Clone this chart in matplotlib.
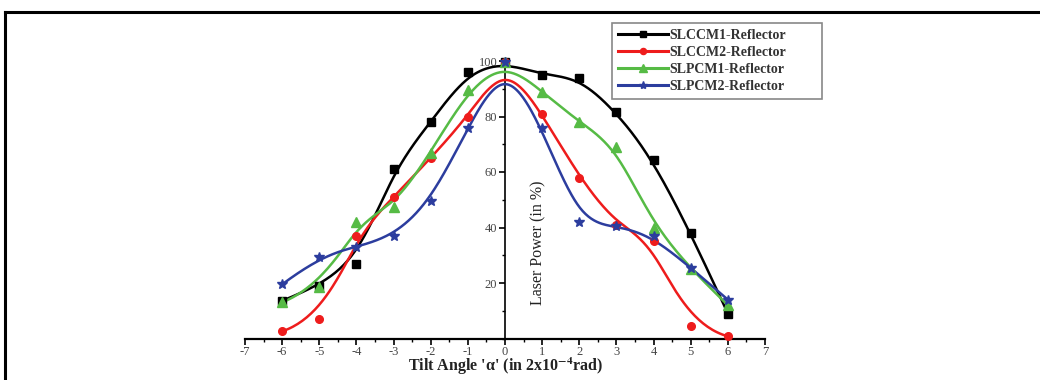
import numpy as np
import matplotlib
matplotlib.use("Agg")
import matplotlib.pyplot as plt
from matplotlib.lines import Line2D
from matplotlib.ticker import MultipleLocator

# Tilt angle positions (in 2x10^-4 rad)
tilt = [-6, -5, -4, -3, -2, -1, 0, 1, 2, 3, 4, 5, 6]

# Laser power (in %)
slccm1 = [13.6, 19, 27, 61, 78, 96, 99.5, 95, 94, 81.5, 64.5, 38, 9]
slccm2 = [2.6, 7, 37, 51, 65, 80, 99.5, 81, 58, 41, 35, 4.4, 0.8]
slpcm1 = [13, 18.5, 42, 47.5, 67, 89.5, 99.5, 89, 78, 69, 40, 25, 12]
slpcm2 = [19.5, 29.5, 33, 37, 49.5, 76, 99.5, 76, 42, 40.5, 37, 25.5, 14]

labels = ['SLCCM1-Reflector', 'SLCCM2-Reflector', 'SLPCM1-Reflector', 'SLPCM2-Reflector']
colors = ['#000000', '#ee1c1c', '#56bb45', '#2c3d9e']
markers = ['s', 'o', '^', '*']
msizes = [5.5, 5.5, 6.5, 7.5]


def bspline(xs, ys, k=3, num=400):
    # clamped uniform B-spline through the control points (Origin style smoothing)
    xs = np.asarray(xs, float)
    ys = np.asarray(ys, float)
    n = len(xs)
    knots = np.concatenate([np.zeros(k), np.arange(n - k + 1), np.full(k, n - k)])
    t = np.linspace(0, n - k, num)
    N = np.zeros((num, len(knots) - 1))
    for i in range(len(knots) - 1):
        N[:, i] = (knots[i] <= t) & (t < knots[i + 1])
    N[t == knots[-1], n - 1] = 1
    for p in range(1, k + 1):
        Nn = np.zeros((num, len(knots) - 1 - p))
        for i in range(len(knots) - 1 - p):
            d1 = knots[i + p] - knots[i]
            d2 = knots[i + p + 1] - knots[i + 1]
            a = (t - knots[i]) / d1 if d1 > 0 else 0
            b = (knots[i + p + 1] - t) / d2 if d2 > 0 else 0
            Nn[:, i] = a * N[:, i] + b * N[:, i + 1]
        N = Nn
    return N @ xs, N @ ys


serif = ['Liberation Serif', 'DejaVu Serif']
plt.rcParams['font.family'] = serif
plt.rcParams['mathtext.fontset'] = 'stix'
plt.rcParams['axes.unicode_minus'] = False

fig = plt.figure(figsize=(10.4, 3.8), dpi=100)
ax = fig.add_axes([245 / 1040, 41.5 / 380, 520 / 1040, 277.5 / 380])

series = [slccm1, slccm2, slpcm1, slpcm2]
for vals, lab, col, mk, ms in zip(series, labels, colors, markers, msizes):
    cx, cy = bspline(tilt, vals)
    ax.plot(cx, cy, color=col, lw=1.8, clip_on=False, zorder=3)
    ax.plot(tilt, vals, ls='none', marker=mk, ms=ms, color=col, clip_on=False, zorder=4)

ax.set_xlim(-7, 7)
ax.set_ylim(0, 100)

ax.spines['top'].set_visible(False)
ax.spines['right'].set_visible(False)
ax.spines['left'].set_position(('data', 0))
ax.spines['left'].set_linewidth(1.2)
ax.spines['bottom'].set_linewidth(1.6)

ax.xaxis.set_major_locator(MultipleLocator(1))
ax.xaxis.set_minor_locator(MultipleLocator(0.5))
ax.yaxis.set_minor_locator(MultipleLocator(10))
ax.set_yticks([20, 40, 60, 80, 100])
ax.tick_params(axis='both', which='major', direction='out', length=4, width=1.2,
               labelsize=9, labelcolor='#444444', pad=1.5)
ax.tick_params(axis='both', which='minor', direction='out', length=2.5, width=1)

ax.set_xlabel(r"Tilt Angle 'α' (in 2x10$^{\mathbf{-4}}$rad)", fontsize=11.5,
              fontweight='bold', labelpad=-1.5, color='#222222')
ax.text(0.9, 34.5, 'Laser Power (in %)', rotation=90, ha='center', va='center',
        fontsize=11.5, color='#222222')

handles = [Line2D([], [], color=c, lw=2.2, marker=m, ms=s * 0.8)
           for c, m, s in zip(colors, markers, msizes)]
leg = fig.legend(handles, labels, loc='upper left',
                 bbox_to_anchor=(612 / 1040, 1 - 98 / 380, 210 / 1040, 75 / 380),
                 mode='expand', borderaxespad=0, fancybox=False, framealpha=1,
                 edgecolor='#888888', handlelength=3.6,
                 handletextpad=0.15, labelspacing=0.3, borderpad=0.4,
                 prop={'weight': 'bold', 'size': 10})
leg.get_frame().set_linewidth(1.2)
for txt in leg.get_texts():
    txt.set_color('#333333')

# outer frame of the figure panel
ytop = 1 - 12 / 380
fig.add_artist(Line2D([5 / 1040, 1.0], [ytop, ytop], color='black', lw=2.2,
                      transform=fig.transFigure))
fig.add_artist(Line2D([5 / 1040, 5 / 1040], [0, ytop], color='black', lw=2.2,
                      transform=fig.transFigure))

fig.savefig('out.png', dpi=100)
